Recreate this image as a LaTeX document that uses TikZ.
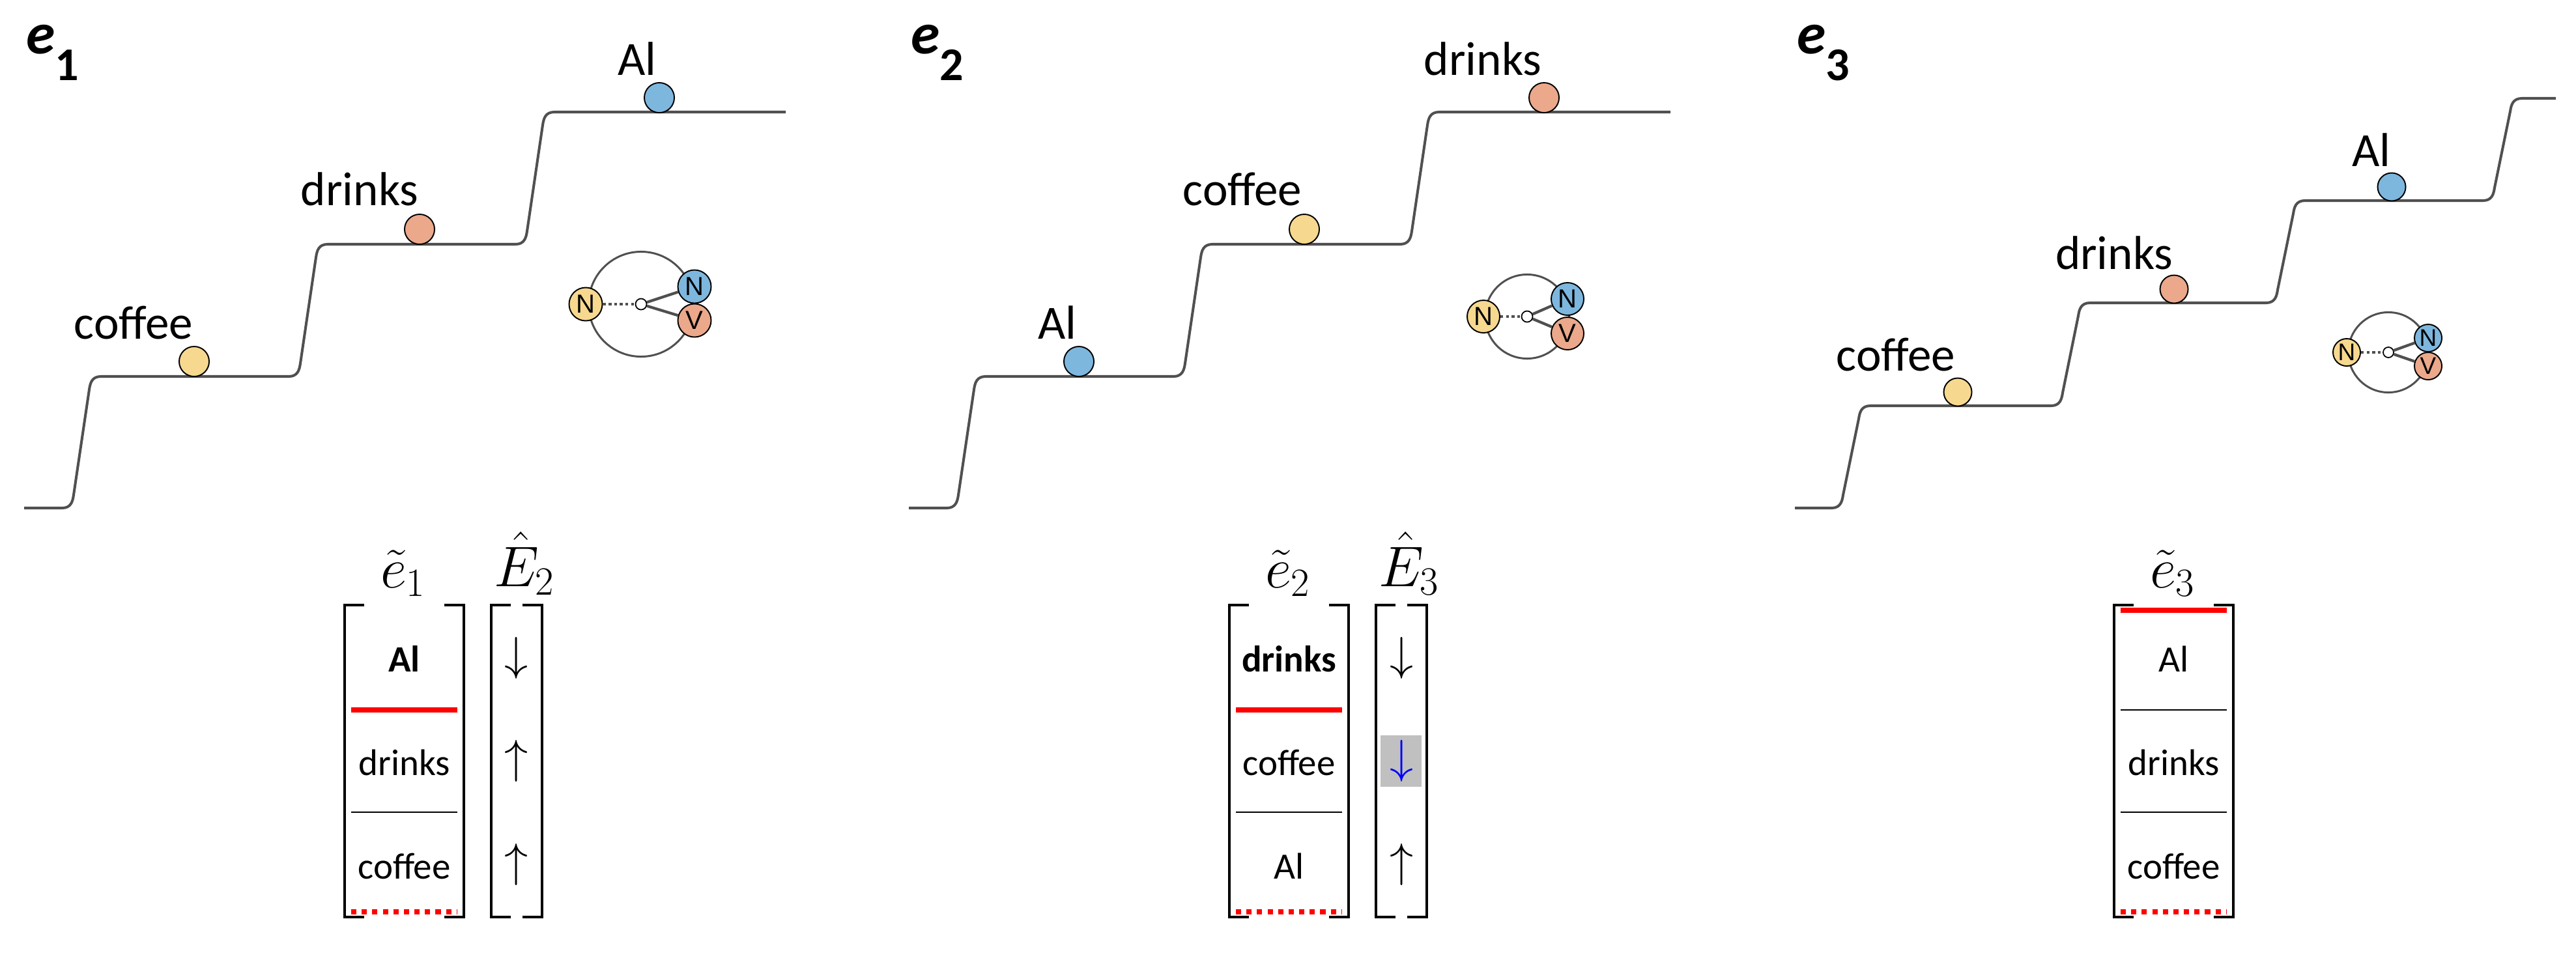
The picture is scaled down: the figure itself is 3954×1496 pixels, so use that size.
\RequirePackage{fix-cm}
\documentclass[tikz,border=0pt]{standalone}
\usepackage[no-math]{fontspec}
\setmainfont{Carlito}
\newfontfamily\nvfont{Liberation Sans}
\usepackage{graphicx}
\definecolor{stairgray}{HTML}{505050}
\definecolor{cyel}{HTML}{F6D88F}
\definecolor{cblue}{HTML}{7EB7DE}
\definecolor{csal}{HTML}{EBA88B}
\definecolor{hlgray}{HTML}{C0C0C0}
\newcommand\rsstep[3]{-- ({#1-30},#2) .. controls ({#1-16},#2) and ({#1-13.5},{#2-10}) .. ({#1-12},{#2-20}) -- ({#1+12},{#3+20}) .. controls ({#1+13.5},{#3+10}) and ({#1+16},#3) .. ({#1+30},#3)}
\newcommand\elab[1]{{\fontsize{25.6}{30}\selectfont\bfseries\itshape e}\raisebox{-11.7pt}{\fontsize{20.5}{24}\selectfont\bfseries #1}}
\tikzset{
 stair/.style={draw=stairgray, line width=1.15pt, line join=round},
 ball/.style={circle, draw=black, line width=0.55pt, inner sep=0pt, minimum size=0.46cm},
 lab/.style={anchor=base east, inner sep=0pt, font=\fontsize{20.8}{25}\selectfont},
 elabel/.style={anchor=base west, inner sep=0pt},
 bigc/.style={circle, draw=stairgray, line width=0.85pt, inner sep=0pt},
 mnode/.style={circle, draw=black, line width=0.55pt, inner sep=0pt, font=\nvfont\fontsize{11.4}{13}\selectfont},
 hub/.style={circle, draw=black, fill=white, line width=0.5pt, inner sep=0pt, minimum size=0.17cm},
 dotl/.style={draw=stairgray, line width=1.2pt, dash pattern=on 1.25pt off 1.2pt},
 solidl/.style={draw=stairgray, line width=1.2pt},
 brk/.style={draw=black, line width=1.15pt, line join=miter, line cap=butt},
 redl/.style={draw=red, line width=2.3pt},
 redd/.style={draw=red, line width=2.3pt, dash pattern=on 2.3pt off 2.3pt},
 thinl/.style={draw=black, line width=0.45pt},
 cell/.style={anchor=base, inner sep=0pt, font=\fontsize{16.2}{19}\selectfont},
 mlab/.style={anchor=base, inner sep=0pt, font=\fontsize{25}{30}\selectfont},
 arr/.style={inner sep=0pt, font=\fontsize{20.5}{24}\selectfont},
}
\begin{document}
\begin{tikzpicture}[x=0.01cm,y=-0.01cm]
\fill[white] (0,0) rectangle (3954,1496);
\useasboundingbox (0,0) rectangle (3954,1496);

% ---------- panel labels ----------
\node[elabel] (e1lab) at (40,82) {\elab{1}};
\node[elabel] (e2lab) at (1398,82) {\elab{2}};
\node[elabel] (e3lab) at (2758,82) {\elab{3}};

% ---------- staircases ----------
\draw[stair] (37,780) \rsstep{125}{780}{578} \rsstep{473}{578}{375} \rsstep{821}{375}{172} -- (1206,172);
\draw[stair] (1395,780) \rsstep{1483}{780}{578} \rsstep{1831}{578}{375} \rsstep{2179}{375}{172} -- (2564,172);
\draw[stair] (2755,780) \rsstep{2841}{780}{623} \rsstep{3178}{623}{465} \rsstep{3508}{465}{308} \rsstep{3841}{308}{151} -- (3923,151);

% ---------- balls ----------
\node[ball, fill=cyel]  (b1c) at (298,555) {};
\node[ball, fill=csal]  (b1d) at (644,352) {};
\node[ball, fill=cblue] (b1a) at (1012,150) {};
\node[ball, fill=cblue] (b2a) at (1656,555) {};
\node[ball, fill=cyel]  (b2c) at (2002,352) {};
\node[ball, fill=csal]  (b2d) at (2370,150) {};
\node[ball, fill=cyel, minimum size=0.43cm]  (b3c) at (3005,602) {};
\node[ball, fill=csal, minimum size=0.43cm]  (b3d) at (3337,444) {};
\node[ball, fill=cblue, minimum size=0.43cm] (b3a) at (3671,287) {};

% ---------- word labels ----------
\node[lab] (l1c) at (297,520) {coffee};
\node[lab] (l1d) at (643,315) {drinks};
\node[lab] (l1a) at (1008,115) {Al};
\node[lab] (l2a) at (1653,520) {Al};
\node[lab] (l2c) at (1999,315) {coffee};
\node[lab] (l2d) at (2367,115) {drinks};
\node[lab] (l3c) at (3002,569) {coffee};
\node[lab] (l3d) at (3336,413) {drinks};
\node[lab] (l3a) at (3670,255) {Al};

% ---------- mini graphs ----------
% e1
\node[bigc, minimum size=1.61cm] (g1) at (984,467) {};
\node[hub] (h1) at (984,467) {};
\node[mnode, fill=cyel, minimum size=0.51cm] (y1) at (899,467) {N};
\node[mnode, fill=cblue, minimum size=0.51cm] (n1) at (1066,440) {N};
\node[mnode, fill=csal, minimum size=0.51cm] (v1) at (1066,492) {V};
\draw[dotl] (y1) -- (h1);
\draw[solidl] (h1) -- (n1);
\draw[solidl] (h1) -- (v1);
% e2
\node[bigc, minimum size=1.29cm] (g2) at (2344,486) {};
\node[hub] (h2) at (2344,486) {};
\node[mnode, fill=cyel, minimum size=0.50cm] (y2) at (2277,486) {N};
\node[mnode, fill=cblue, minimum size=0.50cm] (n2) at (2406,459) {N};
\node[mnode, fill=csal, minimum size=0.50cm] (v2) at (2406,512) {V};
\draw[dotl] (y2) -- (h2);
\draw[solidl] (h2) -- (n2);
\draw[solidl] (h2) -- (v2);
% e3
\node[bigc, minimum size=1.23cm] (g3) at (3666,541) {};
\node[hub, minimum size=0.16cm] (h3) at (3666,541) {};
\node[mnode, fill=cyel, minimum size=0.42cm, font=\nvfont\fontsize{10.5}{12}\selectfont] (y3) at (3602,541) {N};
\node[mnode, fill=cblue, minimum size=0.42cm, font=\nvfont\fontsize{10.5}{12}\selectfont] (n3) at (3727,519) {N};
\node[mnode, fill=csal, minimum size=0.42cm, font=\nvfont\fontsize{10.5}{12}\selectfont] (v3) at (3727,562) {V};
\draw[dotl] (y3) -- (h3);
\draw[solidl] (h3) -- (n3);
\draw[solidl] (h3) -- (v3);

% ---------- lower boxes: e1 ----------
\draw[brk] (559,929) -- (529,929) -- (529,1408) -- (559,1408);
\draw[brk] (682,929) -- (712,929) -- (712,1408) -- (682,1408);
\draw[redl] (539,1090) -- (702,1090);
\draw[thinl] (539,1247) -- (702,1247);
\draw[redd] (539,1400) -- (702,1400);
\node[cell] (c1a) at (620.5,1031) {\bfseries Al};
\node[cell] (c1b) at (620.5,1190) {drinks};
\node[cell] (c1c) at (620.5,1349) {coffee};
\node[mlab] (t1) at (619,902) {$\tilde{e}_1$};
\draw[brk] (784,929) -- (754,929) -- (754,1408) -- (784,1408);
\draw[brk] (802,929) -- (832,929) -- (832,1408) -- (802,1408);
\node[mlab] (E2) at (805,900) {$\hat{E}_2$};
\node[arr] (a1a) at (793,1010) {$\downarrow$};
\node[arr] (a1b) at (793,1168) {$\uparrow$};
\node[arr] (a1c) at (793,1327) {$\uparrow$};

% ---------- lower boxes: e2 ----------
\draw[brk] (1917,929) -- (1887,929) -- (1887,1408) -- (1917,1408);
\draw[brk] (2040,929) -- (2070,929) -- (2070,1408) -- (2040,1408);
\draw[redl] (1897,1090) -- (2060,1090);
\draw[thinl] (1897,1247) -- (2060,1247);
\draw[redd] (1897,1400) -- (2060,1400);
\node[cell] (c2a) at (1978.5,1031) {\bfseries drinks};
\node[cell] (c2b) at (1978.5,1190) {coffee};
\node[cell] (c2c) at (1978.5,1349) {Al};
\node[mlab] (t2) at (1977,902) {$\tilde{e}_2$};
\draw[brk] (2142,929) -- (2112,929) -- (2112,1408) -- (2142,1408);
\draw[brk] (2160,929) -- (2190,929) -- (2190,1408) -- (2160,1408);
\node[mlab] (E3) at (2163,900) {$\hat{E}_3$};
\fill[hlgray] (2119,1129) rectangle (2182,1208);
\node[arr] (a2a) at (2151,1010) {$\downarrow$};
\node[arr, text=blue] (a2b) at (2151,1168) {$\downarrow$};
\node[arr] (a2c) at (2151,1327) {$\uparrow$};

% ---------- lower boxes: e3 ----------
\draw[brk] (3275,929) -- (3245,929) -- (3245,1408) -- (3275,1408);
\draw[brk] (3398,929) -- (3428,929) -- (3428,1408) -- (3398,1408);
\draw[redl] (3255,937) -- (3418,937);
\draw[thinl] (3255,1090) -- (3418,1090);
\draw[thinl] (3255,1247) -- (3418,1247);
\draw[redd] (3255,1400) -- (3418,1400);
\node[cell] (c3a) at (3336.5,1031) {Al};
\node[cell] (c3b) at (3336.5,1190) {drinks};
\node[cell] (c3c) at (3336.5,1349) {coffee};
\node[mlab] (t3) at (3335,902) {$\tilde{e}_3$};
\end{tikzpicture}
\end{document}
